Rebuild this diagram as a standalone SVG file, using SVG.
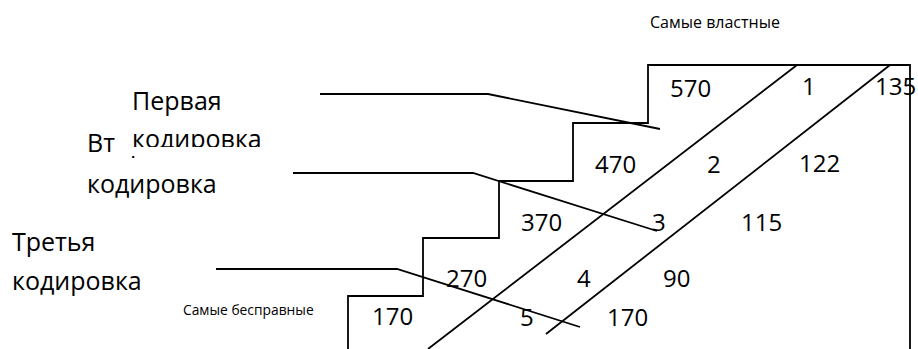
<svg xmlns="http://www.w3.org/2000/svg" width="918" height="349" viewBox="0 0 918 349">
<style>
.ln{fill:none;stroke:#000;stroke-width:1.8}
.num{font-family:"Open Sans","Noto Sans",sans-serif;font-size:24px;fill:#000}
.lbl{font-family:"Open Sans","Noto Sans",sans-serif;font-size:25px;fill:#000}
.sm{font-family:"Open Sans","Noto Sans",sans-serif;fill:#000}
</style>
<defs>
<clipPath id="c1"><rect x="115" y="78" width="190" height="69"/></clipPath>
</defs>
<rect width="918" height="349" fill="#fff"/>
<g id="staircase">
<path class="ln" d="M348,349 V296 H423 V238 H499 V181 H573 V123 H648 V65 H910 V349"/>
<line class="ln" x1="797" y1="65" x2="428" y2="349"/>
<line class="ln" x1="890" y1="65" x2="546" y2="334"/>
</g>
<g id="label-second">
<text class="lbl" x="87" y="152">Вторая</text>
<text class="lbl" x="87" y="193">кодировка</text>
</g>
<g id="label-first">
<rect x="115" y="78" width="190" height="78" fill="#fff"/>
<g clip-path="url(#c1)">
<text class="lbl" x="132" y="110">Первая</text>
<text class="lbl" x="132" y="148">кодировка</text>
</g>
</g>
<g id="label-third">
<text class="lbl" x="12" y="251">Третья</text>
<text class="lbl" x="12" y="290">кодировка</text>
</g>
<g id="connectors">
<polyline class="ln" points="320,94 488,94 660,129"/>
<polyline class="ln" points="293,173 473,173 657,231"/>
<polyline class="ln" points="216,269 397,269 580,327"/>
</g>
<g id="numbers">
<text class="num" x="670" y="97">570</text>
<text class="num" x="802" y="95">1</text>
<text class="num" x="875" y="95">135</text>
<text class="num" x="595" y="173">470</text>
<text class="num" x="707" y="173">2</text>
<text class="num" x="799" y="172">122</text>
<text class="num" x="521" y="231">370</text>
<text class="num" x="652" y="231">3</text>
<text class="num" x="741" y="231">115</text>
<text class="num" x="446" y="287">270</text>
<text class="num" x="577" y="287">4</text>
<text class="num" x="663" y="287">90</text>
<text class="num" x="372" y="325">170</text>
<text class="num" x="520" y="326">5</text>
<text class="num" x="607" y="326">170</text>
</g>
<g id="captions">
<text class="sm" x="650" y="28" font-size="16">Самые властные</text>
<text class="sm" x="183" y="315" font-size="13.8">Самые бесправные</text>
</g>
</svg>
